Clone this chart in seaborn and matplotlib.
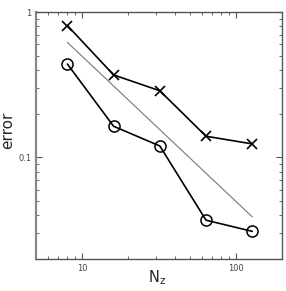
import numpy as np
import pandas as pd
import matplotlib
matplotlib.use("Agg")
import matplotlib.pyplot as plt
import seaborn as sns

# Data
nz = [8, 16, 32, 64, 128]
err_cross = [0.81, 0.37, 0.288, 0.14, 0.124]
err_circle = [0.44, 0.164, 0.12, 0.037, 0.031]
ref_nz = [8, 128]
ref_err = [0.62, 0.039]

sns.set_style("ticks")
plt.rcParams['font.family'] = ['DejaVu Sans']

fig = plt.figure(figsize=(2.86, 2.91), dpi=100)
ax = fig.add_axes([0.126, 0.110, 0.860, 0.848])

sns.lineplot(x=ref_nz, y=ref_err, ax=ax, color="#777777", linewidth=0.8)
sns.lineplot(x=nz, y=err_cross, ax=ax, color="black", linewidth=1.2,
             marker="x", markersize=7.5, markeredgewidth=1.2,
             markeredgecolor="black")
sns.lineplot(x=nz, y=err_circle, ax=ax, color="black", linewidth=1.2,
             marker="o", markersize=8, markeredgewidth=1.1,
             markerfacecolor="none", markeredgecolor="black")

ax.set_xscale("log")
ax.set_yscale("log")
ax.set_xlim(5, 200)
ax.set_ylim(0.02, 1)
ax.set_xticks([10, 100])
ax.set_xticklabels(["10", "100"])
ax.set_yticks([0.1, 1])
ax.set_yticklabels(["0.1", "1"])

ax.tick_params(which="both", direction="in", top=True, right=True,
               labelsize=6, labelcolor="#444444", color="#555555")
ax.tick_params(which="major", length=4)
ax.tick_params(which="minor", length=2)
for s in ax.spines.values():
    s.set_color("#555555")
    s.set_linewidth(1.0)
ax.spines["left"].set_linewidth(1.6)
ax.spines["left"].set_color("#888888")

# axis titles placed like the reference
fig.text(157 / 286, 9 / 291, r"N$_\mathregular{z}$", fontsize=10.5,
         ha="center", va="baseline")
fig.text(8 / 286, 1 - 130 / 291, "error", fontsize=11, rotation=90,
         ha="center", va="center")

plt.savefig("out.png", dpi=100)
